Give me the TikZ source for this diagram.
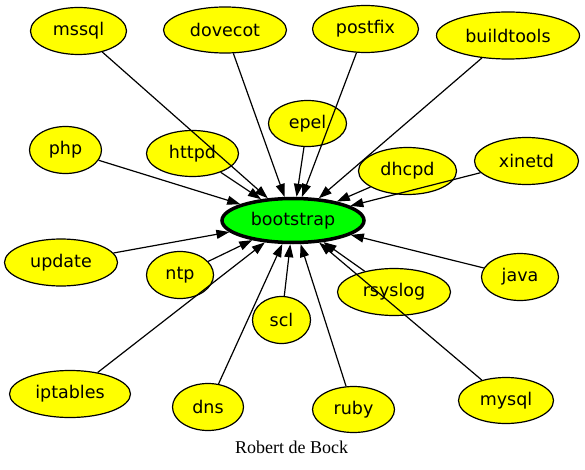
\documentclass[tikz,border=0pt]{standalone}
\usepackage{fontspec}
\newfontfamily\nodefont{DejaVu Sans}
\newfontfamily\labfont{Liberation Serif}
\usetikzlibrary{shapes.geometric,arrows.meta}
\tikzset{
  pkg/.style={ellipse, draw=black, line width=1.2pt, fill=yellow, inner sep=0pt,
    font=\nodefont\fontsize{17.5}{20}\selectfont, text=black},
  root/.style={ellipse, draw=black, line width=3.5pt, fill=green, inner sep=0pt,
    font=\nodefont\fontsize{17.5}{20}\selectfont, text=black},
  dep/.style={draw=black, line width=1.2pt, -{Triangle[length=13pt,width=9pt]}},
  credit/.style={font=\labfont\fontsize{18}{20}\selectfont, inner sep=0pt}
}
\definecolor{yellow}{RGB}{255,255,0}
\definecolor{green}{RGB}{0,255,0}
\begin{document}
\begin{tikzpicture}[x=1pt,y=-1pt]
\useasboundingbox (0,0) rectangle (585,470);
\fill[white] (0,0) rectangle (585,470);
\node[root, minimum width=142pt, minimum height=44pt] (bootstrap) at (293,220.5) {bootstrap};
\node[pkg, minimum width=96pt, minimum height=47pt] (mssql) at (78.5,31) {mssql};
\node[pkg, minimum width=123pt, minimum height=46pt] (dovecot) at (225,30) {dovecot};
\node[pkg, minimum width=106pt, minimum height=47pt] (postfix) at (365.5,29) {postfix};
\node[pkg, minimum width=143pt, minimum height=47pt] (buildtools) at (508,35.5) {buildtools};
\node[pkg, minimum width=72pt, minimum height=47pt] (php) at (65.5,150) {php};
\node[pkg, minimum width=92pt, minimum height=46pt] (httpd) at (192.5,153.5) {httpd};
\node[pkg, minimum width=78pt, minimum height=46pt] (epel) at (307.5,123.5) {epel};
\node[pkg, minimum width=98pt, minimum height=47pt] (dhcpd) at (407.5,171) {dhcpd};
\node[pkg, minimum width=104pt, minimum height=47pt] (xinetd) at (526.5,161) {xinetd};
\node[pkg, minimum width=113pt, minimum height=47pt] (update) at (61,262.5) {update};
\node[pkg, minimum width=67pt, minimum height=47pt] (ntp) at (180,275) {ntp};
\node[pkg, minimum width=77pt, minimum height=47pt] (java) at (520,277) {java};
\node[pkg, minimum width=113pt, minimum height=47pt] (rsyslog) at (394,292) {rsyslog};
\node[pkg, minimum width=58pt, minimum height=47pt] (scl) at (281.5,320) {scl};
\node[pkg, minimum width=121pt, minimum height=47pt] (iptables) at (70,394) {iptables};
\node[pkg, minimum width=71pt, minimum height=47pt] (dns) at (208,407) {dns};
\node[pkg, minimum width=82pt, minimum height=46pt] (ruby) at (353.5,409.5) {ruby};
\node[pkg, minimum width=95pt, minimum height=46pt] (mysql) at (506,400.5) {mysql};
\node[credit] (author) at (291.5,447) {Robert de Bock};
\foreach \n in {mssql,dovecot,postfix,buildtools,php,httpd,epel,dhcpd,xinetd,update,ntp,java,rsyslog,scl,iptables,dns,ruby,mysql}
  \draw[dep] (\n) -- (bootstrap);
\end{tikzpicture}
\end{document}
